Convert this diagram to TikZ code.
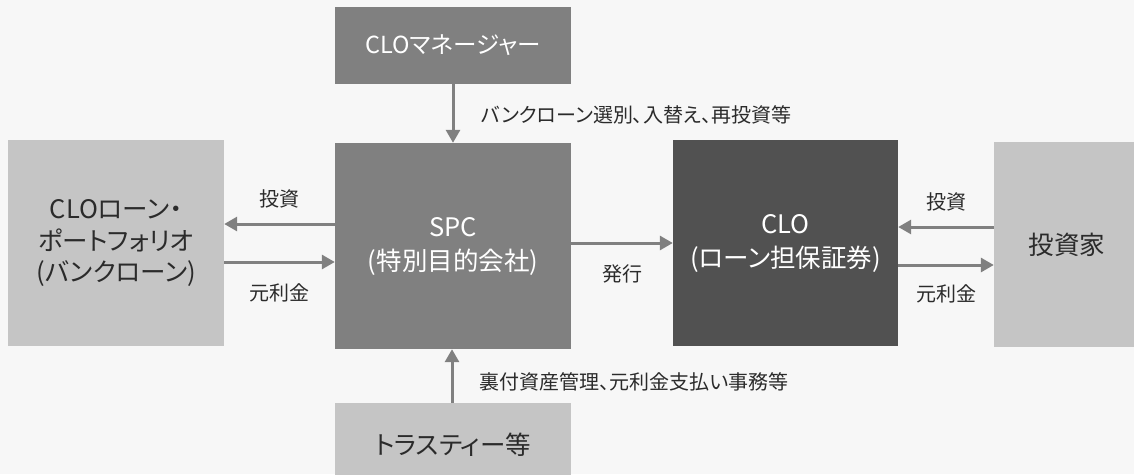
\documentclass[tikz,border=0pt]{standalone}
\usepackage{fontspec}
\setmainfont{Noto Sans CJK JP}[RawFeature=+palt]
\usetikzlibrary{arrows.meta}
\definecolor{paper}{HTML}{F7F7F7}
\definecolor{boxlight}{HTML}{C5C5C5}
\definecolor{boxmid}{HTML}{808080}
\definecolor{boxdark}{HTML}{515151}
\definecolor{flowgray}{HTML}{808080}
\definecolor{inktext}{HTML}{2B2B2B}
\begin{document}
\begin{tikzpicture}[x=1pt, y=-1pt,
				box/.style = {rectangle, inner sep=0pt, align=center, font=\fontsize{25.5}{34}\selectfont},
				lightbox/.style = {box, fill=boxlight, text=inktext},
				midbox/.style = {box, fill=boxmid, text=white},
				darkbox/.style = {box, fill=boxdark, text=white},
				flow/.style = {-{Triangle[length=13pt, width=14pt]}, line width=3pt, draw=flowgray},
				flowlabel/.style = {inner sep=0pt, text=inktext, font=\fontsize{20}{23}\selectfont}
			]
			\useasboundingbox (0,0) rectangle (1134,474);
			\fill[paper] (0,0) rectangle (1134,474);
			% boxes
			\node[midbox, minimum width=236pt, minimum height=77pt, font=\fontsize{23.5}{27}\selectfont] (manager) at (453,45.5) {CLOマネージャー};
			\node[midbox, minimum width=236pt, minimum height=206pt] (spc) at (453,246) {SPC\\(特別目的会社)};
			\node[lightbox, minimum width=216pt, minimum height=206pt, font=\fontsize{25.5}{31.5}\selectfont] (portfolio) at (116,243) {CLOローン・\\ポートフォリオ\\(バンクローン)};
			\node[darkbox, minimum width=225pt, minimum height=206pt] (clo) at (785.5,243) {CLO\\(ローン担保証券)};
			\node[lightbox, minimum width=146pt, minimum height=205pt] (investor) at (1067,244.5) {投資家};
			\node[lightbox, minimum width=236pt, minimum height=84pt] (trustee) at (453,445) {トラスティー等};
			% flows
			\draw[flow] (manager) -- node[flowlabel, midway, anchor=west, xshift=27pt, yshift=-1pt] {バンクローン選別、入替え、再投資等} (spc);
			\draw[flow] (trustee.north -| 452,0) -- node[flowlabel, midway, anchor=west, xshift=26pt, yshift=-6pt] {裏付資産管理、元利金支払い事務等} (spc.south -| 452,0);
			\draw[flow] (spc.west |- 0,224) -- node[flowlabel, above=14pt] {投資} (portfolio.east |- 0,224);
			\draw[flow] (portfolio.east |- 0,262) -- node[flowlabel, below=20.5pt] {元利金} (spc.west |- 0,262);
			\draw[flow] (spc.east |- 0,243) -- node[flowlabel, below=20pt] {発行} (clo.west |- 0,243);
			\draw[flow] (investor.west |- 0,227) -- node[flowlabel, above=14pt] {投資} (clo.east |- 0,227);
			\draw[flow] (clo.east |- 0,265) -- node[flowlabel, below=18pt] {元利金} (investor.west |- 0,265);
		\end{tikzpicture}
\end{document}
